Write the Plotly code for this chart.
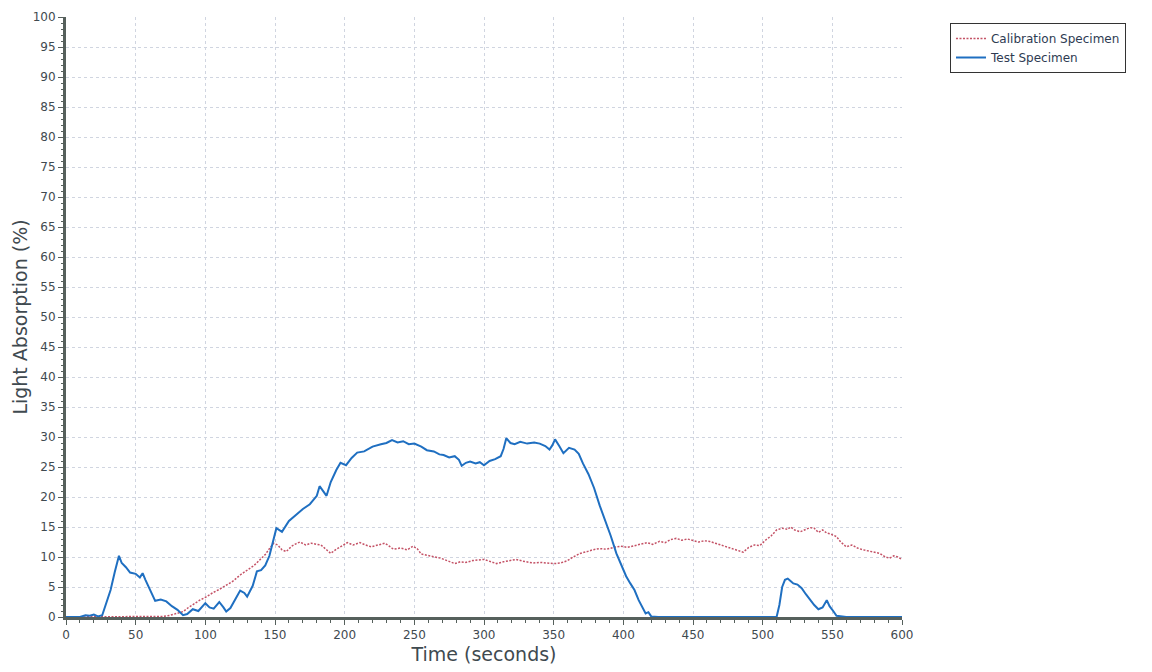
import plotly.graph_objects as go

# Test Specimen (blue)
test_t = [0, 5, 10, 14, 17, 20, 23, 26, 29, 32, 35, 38, 40, 43, 46, 50, 53, 55, 57, 59, 62, 64, 68, 72, 76, 80,
          84, 87, 91, 95, 100, 103, 106, 110, 113, 115, 118, 121, 125, 128, 130, 134, 137, 140, 143, 146, 148,
          151, 155, 160, 165, 170, 175, 180, 182, 185, 187, 190, 194, 197, 201, 205, 209, 214, 220, 226, 230,
          234, 238, 242, 246, 250, 255, 259, 264, 268, 271, 275, 279, 282, 284, 287, 290, 294, 297, 300, 304,
          308, 312, 314, 316, 319, 322, 326, 331, 336, 340, 344, 347, 349, 351, 354, 357, 361, 365, 368, 371,
          375, 379, 383, 387, 391, 395, 399, 402, 405, 408, 411, 414, 416, 418, 420, 425, 450, 480, 505, 510,
          512, 514, 516, 518, 520, 522, 525, 528, 531, 534, 537, 540, 543, 546, 548, 550, 553, 560, 580, 600]
test_v = [0, 0, 0, 0.3, 0.2, 0.4, 0.1, 0.3, 2.5, 4.5, 7.5, 10.2, 9.0, 8.3, 7.4, 7.2, 6.6, 7.3, 6.2, 5.2, 3.5,
          2.7, 2.9, 2.6, 1.8, 1.2, 0.3, 0.5, 1.3, 1.0, 2.3, 1.6, 1.4, 2.5, 1.6, 0.9, 1.5, 2.8, 4.4, 4.0, 3.4,
          5.2, 7.6, 7.8, 8.6, 10.2, 12.0, 14.8, 14.2, 16.0, 17.0, 18.0, 18.8, 20.2, 21.8, 20.8, 20.2, 22.5,
          24.5, 25.7, 25.3, 26.5, 27.4, 27.6, 28.4, 28.8, 29.0, 29.5, 29.1, 29.3, 28.8, 28.9, 28.4, 27.8, 27.6,
          27.1, 27.0, 26.6, 26.8, 26.2, 25.2, 25.7, 25.9, 25.6, 25.8, 25.3, 26.0, 26.3, 26.8, 28.0, 29.8, 29.0,
          28.8, 29.2, 28.9, 29.1, 28.9, 28.5, 27.9, 28.6, 29.6, 28.5, 27.3, 28.2, 27.9, 27.2, 25.6, 23.8, 21.5,
          18.6, 16.2, 13.5, 10.6, 8.4, 6.8, 5.6, 4.5, 2.8, 1.4, 0.6, 0.8, 0.1, 0, 0, 0, 0, 0,
          2.0, 5.0, 6.2, 6.4, 6.0, 5.6, 5.4, 4.8, 3.8, 2.8, 2.0, 1.3, 1.6, 2.8, 1.8, 1.2, 0.2, 0, 0, 0]

# Calibration Specimen (red, dotted)
cal_t = [0, 20, 40, 60, 70, 75, 80, 84, 88, 92, 96, 101, 105, 110, 115, 120, 125, 130, 135, 139, 143, 146, 149,
         152, 155, 158, 162, 165, 168, 172, 176, 180, 183, 187, 190, 194, 198, 202, 206, 211, 215, 219, 224, 229,
         232, 235, 240, 245, 249, 252, 255, 260, 265, 269, 274, 279, 283, 287, 292, 296, 300, 305, 309, 314, 318,
         323, 328, 335, 340, 345, 350, 355, 360, 364, 369, 374, 378, 383, 388, 393, 398, 403, 408, 413, 417, 421,
         426, 430, 434, 438, 442, 446, 450, 454, 458, 462, 466, 470, 474, 478, 482, 486, 490, 494, 498, 502, 506,
         510, 514, 518, 520, 523, 527, 531, 534, 537, 540, 543, 546, 549, 553, 556, 560, 564, 568, 572, 576, 580,
         584, 588, 591, 594, 597, 600]
cal_v = [0, 0, 0, 0, 0.1, 0.3, 0.6, 0.9, 1.6, 2.2, 2.8, 3.4, 4.0, 4.6, 5.3, 6.0, 7.0, 7.8, 8.6, 9.5, 10.4, 11.4,
         12.3, 12.0, 11.2, 10.9, 11.8, 12.2, 12.5, 12.0, 12.3, 12.1, 12.0, 11.2, 10.6, 11.3, 11.8, 12.4, 12.0,
         12.4, 12.0, 11.7, 12.0, 12.3, 11.8, 11.3, 11.5, 11.2, 11.8, 11.4, 10.5, 10.3, 10.0, 9.8, 9.4, 8.9, 9.2,
         9.1, 9.4, 9.5, 9.6, 9.2, 8.9, 9.2, 9.4, 9.6, 9.3, 9.0, 9.1, 9.0, 8.9, 9.0, 9.4, 10.0, 10.6, 10.9, 11.2,
         11.4, 11.3, 11.6, 11.8, 11.6, 11.9, 12.2, 12.4, 12.1, 12.6, 12.4, 12.9, 13.1, 12.8, 13.0, 12.8, 12.5,
         12.7, 12.6, 12.3, 12.0, 11.6, 11.4, 11.1, 10.8, 11.6, 12.0, 11.9, 12.8, 13.5, 14.5, 14.8, 14.6, 15.0,
         14.5, 14.2, 14.6, 14.9, 14.8, 14.1, 14.5, 14.0, 13.8, 13.4, 12.5, 11.7, 12.0, 11.5, 11.2, 11.0, 10.8,
         10.6, 10.0, 9.8, 10.2, 10.0, 9.6]

x_ticks = list(range(0, 601, 50))
y_ticks = list(range(0, 101, 5))

FONT = "DejaVu Sans"
AXIS_COLOR = "#56605c"
GRID_COLOR = "#d0d5e0"
TEXT_COLOR = "#3f4a50"

fig = go.Figure()
fig.add_trace(go.Scatter(x=cal_t, y=cal_v, mode="lines", name="Calibration Specimen",
                         line=dict(color="#c45266", width=1.5, dash="2px,1.5px")))
fig.add_trace(go.Scatter(x=test_t, y=test_v, mode="lines", name="Test Specimen",
                         line=dict(color="#1f6fc1", width=2)))

fig.update_layout(
    width=1144, height=664,
    margin=dict(l=58, r=250, t=9, b=55),
    paper_bgcolor="white", plot_bgcolor="white",
    font=dict(family=FONT, color=TEXT_COLOR),
    showlegend=True,
    legend=dict(x=1.0574, y=0.99, xanchor="left", yanchor="top",
                bgcolor="white", bordercolor="#333", borderwidth=1,
                font=dict(family=FONT, size=12, color="#2e3b52"),
                tracegroupgap=0, itemwidth=30),
    xaxis=dict(range=[0, 600], tickvals=x_ticks, ticktext=[str(v) for v in x_ticks],
               showgrid=True, gridcolor=GRID_COLOR, griddash="3px,3px", gridwidth=1,
               showline=True, linecolor=AXIS_COLOR, linewidth=3,
               ticks="outside", ticklen=5, tickcolor=AXIS_COLOR, tickwidth=1,
               minor=dict(dtick=10, ticks="outside", ticklen=3, tickcolor=AXIS_COLOR, showgrid=False),
               tickfont=dict(family=FONT, size=12, color=TEXT_COLOR),
               title=dict(text="Time (seconds)", font=dict(family=FONT, size=19, color=TEXT_COLOR),
                          standoff=7),
               automargin=False, zeroline=False),
    yaxis=dict(range=[0, 100], tickvals=y_ticks, ticktext=[str(v) for v in y_ticks],
               showgrid=True, gridcolor=GRID_COLOR, griddash="3px,3px", gridwidth=1,
               showline=True, linecolor=AXIS_COLOR, linewidth=3,
               ticks="outside", ticklen=5, tickcolor=AXIS_COLOR, tickwidth=1,
               minor=dict(dtick=1, ticks="outside", ticklen=2, tickcolor=AXIS_COLOR, showgrid=False),
               tickfont=dict(family=FONT, size=12, color=TEXT_COLOR),
               title=dict(text="Light Absorption (%)", font=dict(family=FONT, size=19, color=TEXT_COLOR),
                          standoff=1),
               automargin=False, zeroline=False),
)

fig.write_html("out.html")
